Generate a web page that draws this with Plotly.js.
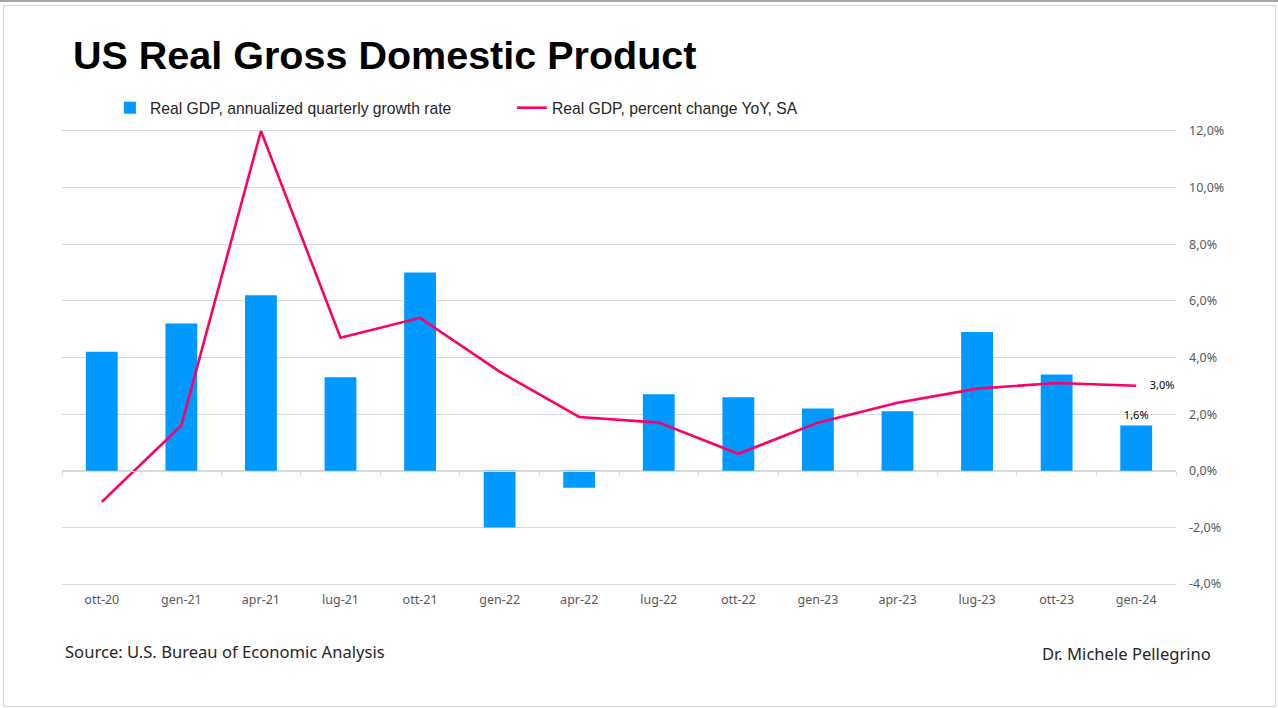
<!DOCTYPE html>
<html>
<head>
<meta charset="utf-8">
<script src="https://cdn.plot.ly/plotly-3.0.1.min.js"></script>
<style>
  html, body { margin:0; padding:0; background:#fff; }
  #wrap { position:relative; width:1278px; height:708px; overflow:hidden; background:#fff; }
  #topbar { position:absolute; left:0; top:0; width:1278px; height:2px; background:#a6a6a6; }
  #frame { position:absolute; left:3px; top:5px; width:1271px; height:700px; border:1px solid #d4d4d4; box-sizing:content-box; }
  #chart { position:absolute; left:0; top:0; width:1278px; height:708px; }
</style>
</head>
<body>
<div id="wrap">
  <div id="topbar"></div>
  <div id="frame"></div>
  <div id="chart"></div>
</div>
<script>
// ---- data ----
const quarters = ['ott-20','gen-21','apr-21','lug-21','ott-21','gen-22','apr-22','lug-22','ott-22','gen-23','apr-23','lug-23','ott-23','gen-24'];
const qoqAnnualized = [4.2, 5.2, 6.2, 3.3, 7.0, -2.0, -0.6, 2.7, 2.6, 2.2, 2.1, 4.9, 3.4, 1.6];
const yoyChange = [-1.1, 1.6, 12.0, 4.7, 5.4, 3.5, 1.9, 1.7, 0.6, 1.7, 2.4, 2.9, 3.1, 3.0];
const yTickValues = [-4, -2, 0, 2, 4, 6, 8, 10, 12];
const seriesNames = ['Real GDP, annualized quarterly growth rate', 'Real GDP, percent change YoY, SA'];
const chartTitle = 'US Real Gross Domestic Product';
const sourceText = 'Source: U.S. Bureau of Economic Analysis';
const authorText = 'Dr. Michele Pellegrino';

function fmt(v){ return v.toFixed(1).replace('.', ',') + '%'; }
function lastOnly(arr){ return arr.map((v,i) => i === arr.length-1 ? fmt(v) : ''); }

const BAR = '#0099ff', LINE = '#ff0066', GRID = '#d9d9d9', TICK = '#595959';
const tickFont = {family:'Noto Sans, Open Sans, sans-serif', size:12.5, color:TICK};
const footFont = {family:'Noto Sans, Open Sans, sans-serif', size:16.6, color:'#262626'};

const Y0 = -4, Y1 = 12, PAD = 0.07;   // small pad so edge gridlines are kept

const traces = [
  {
    type:'bar', name:seriesNames[0], x:quarters, y:qoqAnnualized,
    marker:{color:BAR}, text:lastOnly(qoqAnnualized), textposition:'outside',
    textfont:{family:'Noto Sans, sans-serif', size:11, color:'#000'},
    cliponaxis:false, hoverinfo:'skip'
  },
  {
    type:'scatter', mode:'lines+markers+text', name:seriesNames[1], x:quarters, y:yoyChange,
    line:{color:LINE, width:2.6}, marker:{size:20, color:'rgba(0,0,0,0)'},
    text:lastOnly(yoyChange), textposition:'middle right',
    textfont:{family:'Noto Sans, sans-serif', size:11, color:'#000'},
    cliponaxis:false, hoverinfo:'skip'
  }
];

const pxPerUnit = (584-131)/(Y1-Y0);
const padPx = PAD*pxPerUnit;
const plotTop = 131 - padPx, plotBottom = 584 + padPx, plotH = plotBottom - plotTop;
function py(yPx){ return (plotBottom - yPx)/plotH; }

const layout = {
  width:1278, height:708,
  paper_bgcolor:'rgba(0,0,0,0)', plot_bgcolor:'rgba(0,0,0,0)',
  margin:{l:62, r:102, t:plotTop, b:708 - plotBottom},
  separators:', ',
  showlegend:true,
  bargap:0.6,
  title:{
    text:chartTitle, xref:'container', yref:'container',
    x:73/1278, xanchor:'left', y:1-55/708, yanchor:'middle',
    font:{family:'Liberation Sans, Arial, sans-serif', size:39.5, color:'#000', weight:700}
  },
  legend:{
    orientation:'h', x:0.043, xanchor:'left', y:py(108), yanchor:'middle',
    font:{family:'Liberation Sans, Arial, sans-serif', size:15.7, color:'#262626'},
    entrywidth:357, entrywidthmode:'pixels', bgcolor:'rgba(0,0,0,0)', traceorder:'normal'
  },
  xaxis:{
    type:'category', categoryorder:'array', categoryarray:quarters,
    range:[-0.5, quarters.length-0.5], autorange:false,
    anchor:'free', position:(0-Y0+PAD)/(Y1-Y0+2*PAD),
    showgrid:false, zeroline:false, showline:true, linecolor:GRID, linewidth:1,
    ticks:'outside', tickson:'boundaries', ticklen:4, tickcolor:GRID, tickwidth:1,
    tickfont:tickFont, ticklabelstandoff:117
  },
  yaxis:{
    side:'right', range:[Y0-PAD, Y1+PAD], autorange:false,
    tickmode:'array', tickvals:yTickValues, ticktext:yTickValues.map(fmt),
    showgrid:true, gridcolor:GRID, gridwidth:1,
    zeroline:true, zerolinecolor:GRID, zerolinewidth:1,
    showline:false, ticks:'', tickfont:tickFont, ticklabelstandoff:12
  },
  annotations:[
    {text:sourceText, xref:'paper', yref:'paper', x:(63-62)/1114, y:py(651),
     xanchor:'left', yanchor:'middle', showarrow:false, font:footFont},
    {text:authorText, xref:'paper', yref:'paper', x:(1213-62)/1114, y:py(653),
     xanchor:'right', yanchor:'middle', showarrow:false, font:footFont}
  ]
};

Plotly.newPlot('chart', traces, layout, {displayModeBar:false, staticPlot:true});
</script>
</body>
</html>
